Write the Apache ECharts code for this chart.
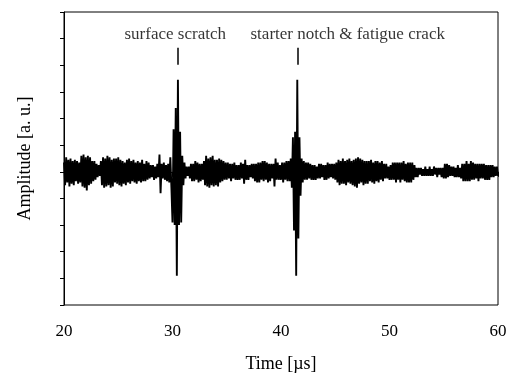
<!DOCTYPE html>
<html>
<head>
<meta charset="utf-8">
<script src="https://cdn.jsdelivr.net/npm/echarts@6/dist/echarts.min.js"></script>
<style>
  html, body { margin: 0; padding: 0; background: #fff; }
  #main { width: 510px; height: 373px; }
</style>
</head>
<body>
<div id="main"></div>
<script>
  // sampling of the trace (µs)
  var t0 = 20;
  var dt = 0.1;

  // amplitude samples [a. u.], one row per microsecond (20 ... 59.9, then 60.0)
  var amp = [
    0.35, -0.5, 0.55, -0.4, 0.45, -0.55, 0.5, -0.45, 0.4, -0.5,      // 20
    0.45, -0.35, 0.4, -0.45, 0.35, -0.4, 0.6, -0.55, 0.65, -0.6,     // 21
    0.55, -0.7, 0.6, -0.5, 0.55, -0.45, 0.4, -0.35, 0.4, -0.3,       // 22
    0.3, -0.2, 0.25, -0.15, 0.4, -0.5, 0.55, -0.6, 0.5, -0.55,       // 23
    0.6, -0.5, 0.55, -0.6, 0.45, -0.55, 0.5, -0.4, 0.5, -0.45,       // 24
    0.55, -0.5, 0.45, -0.55, 0.4, -0.45, 0.35, -0.5, 0.45, -0.4,     // 25
    0.5, -0.45, 0.4, -0.35, 0.45, -0.4, 0.35, -0.45, 0.4, -0.35,     // 26
    0.35, -0.4, 0.45, -0.35, 0.3, -0.35, 0.4, -0.3, 0.35, -0.25,     // 27
    0.25, -0.2, 0.25, -0.3, 0.2, -0.25, 0.3, -0.2, 0.65, -0.8,       // 28
    0.3, -0.25, 0.35, -0.3, 0.25, -0.35, 0.3, -0.4, 0.55, -0.6,      // 29
    -1.9, 1.6, -2.0, 2.4, -3.9, 3.46, -2.0, 1.5, -1.9, 0.6,          // 30 surface scratch
    -0.5, 0.35, -0.25, 0.2, -0.15, 0.2, -0.25, 0.3, -0.35, 0.3,      // 31
    -0.35, 0.4, -0.3, 0.35, -0.4, 0.3, -0.35, 0.3, -0.3, 0.4,        // 32
    -0.5, 0.6, -0.55, 0.5, -0.6, 0.55, -0.5, 0.6, -0.55, 0.45,       // 33
    -0.5, 0.45, -0.55, 0.5, -0.4, 0.45, -0.35, 0.4, -0.3, 0.35,      // 34
    -0.3, 0.35, -0.25, 0.3, -0.35, 0.3, -0.25, 0.35, -0.3, 0.25,     // 35
    -0.3, 0.25, -0.3, 0.35, -0.25, 0.3, -0.45, 0.45, -0.3, 0.25,     // 36
    -0.3, 0.25, -0.2, 0.3, -0.25, 0.3, -0.35, 0.3, -0.4, 0.35,       // 37
    -0.4, 0.35, -0.3, 0.4, -0.35, 0.4, -0.3, 0.35, -0.4, 0.3,        // 38
    -0.35, 0.3, -0.25, 0.3, -0.55, 0.5, -0.3, 0.35, -0.3, 0.25,      // 39
    -0.3, 0.35, -0.4, 0.35, -0.3, 0.4, -0.35, 0.4, -0.35, 0.5,       // 40
    -0.6, 1.3, -2.2, 1.5, -3.9, 3.46, -2.5, 1.3, -0.9, 0.5,          // 41 notch & crack
    -0.4, 0.4, -0.3, 0.35, -0.3, 0.35, -0.25, 0.3, -0.3, 0.25,       // 42
    -0.3, 0.25, -0.3, 0.2, -0.25, 0.3, -0.25, 0.3, -0.2, 0.25,       // 43
    -0.3, 0.25, -0.3, 0.35, -0.25, 0.3, -0.2, 0.3, -0.25, 0.3,       // 44
    -0.3, 0.35, -0.4, 0.45, -0.5, 0.4, -0.45, 0.5, -0.45, 0.4,       // 45
    -0.5, 0.45, -0.4, 0.5, -0.45, 0.4, -0.5, 0.45, -0.55, 0.5,       // 46
    -0.6, 0.55, -0.45, 0.5, -0.4, 0.45, -0.5, 0.4, -0.45, 0.4,       // 47
    -0.45, 0.4, -0.35, 0.45, -0.4, 0.35, -0.45, 0.4, -0.35, 0.4,     // 48
    -0.4, 0.35, -0.3, 0.4, -0.35, 0.3, -0.25, 0.3, -0.25, 0.2,       // 49
    -0.3, 0.25, -0.3, 0.35, -0.3, 0.35, -0.4, 0.35, -0.3, 0.35,      // 50
    -0.4, 0.35, -0.3, 0.4, -0.35, 0.3, -0.4, 0.35, -0.4, 0.35,       // 51
    -0.4, 0.35, -0.3, 0.25, -0.2, 0.15, -0.2, 0.15, -0.1, 0.15,      // 52
    -0.15, 0.1, -0.15, 0.2, -0.15, 0.1, -0.15, 0.2, -0.15, 0.1,      // 53
    -0.15, 0.2, -0.1, 0.15, -0.2, 0.15, -0.1, 0.15, -0.2, 0.15,      // 54
    -0.25, 0.3, -0.25, 0.3, -0.2, 0.25, -0.15, 0.2, -0.15, 0.2,      // 55
    -0.2, 0.15, -0.2, 0.25, -0.2, 0.15, -0.25, 0.3, -0.35, 0.3,      // 56
    -0.35, 0.4, -0.35, 0.3, -0.35, 0.4, -0.3, 0.35, -0.3, 0.3,       // 57
    -0.25, 0.3, -0.35, 0.3, -0.25, 0.3, -0.25, 0.3, -0.3, 0.25,      // 58
    -0.3, 0.25, -0.3, 0.25, -0.2, 0.25, -0.2, 0.2, -0.15, 0.2,       // 59
    -0.15                                                            // 60
  ];

  // annotations above the two echoes
  var annoX = [30.45, 41.5];
  var annoText = ['surface scratch', 'starter notch & fatigue crack'];
  var annoLabelX = [30.25, 46.15];
  var annoTop = 4.66;
  var annoBottom = 4.02;
  var annoTextY = 5.15;

  var xTicks = [20, 30, 40, 50, 60];

  var chartDom = document.getElementById('main');
  var myChart = echarts.init(chartDom, null, { renderer: 'canvas' });
  var serif = '"Liberation Serif", "DejaVu Serif", serif';

  var trace = amp.map(function (v, i) {
    return [+(t0 + i * dt).toFixed(2), v];
  });

  var markSegs = annoX.map(function (x) {
    return [{ coord: [x, annoTop] }, { coord: [x, annoBottom] }];
  });

  var labelPts = annoText.map(function (s, i) {
    return { value: [annoLabelX[i], annoTextY], name: s };
  });

  var option = {
    animation: false,
    grid: {
      left: 64,
      right: 12,
      top: 12,
      bottom: 68,
      outerBoundsMode: 'none',
      containLabel: false,
      show: true,
      borderColor: '#000',
      borderWidth: 1
    },
    xAxis: {
      type: 'value',
      min: xTicks[0],
      max: xTicks[xTicks.length - 1],
      interval: 10,
      name: 'Time [µs]',
      nameLocation: 'middle',
      nameGap: 50,
      nameTextStyle: { fontFamily: serif, fontSize: 18, color: '#000' },
      axisLine: { lineStyle: { color: '#000', width: 1 } },
      axisTick: { inside: false, length: 5, lineStyle: { color: '#000' } },
      axisLabel: { margin: 18, fontFamily: serif, fontSize: 17, color: '#000' },
      splitLine: { show: false }
    },
    yAxis: {
      type: 'value',
      min: -5,
      max: 6,
      interval: 1,
      name: 'Amplitude [a. u.]',
      nameLocation: 'middle',
      nameGap: 30,
      nameTextStyle: { fontFamily: serif, fontSize: 18, color: '#000' },
      axisLine: { show: true, lineStyle: { color: '#000', width: 1 } },
      axisTick: { show: true, inside: false, length: 4, lineStyle: { color: '#000' } },
      axisLabel: { show: false },
      splitLine: { show: false }
    },
    series: [
      {
        name: 'signal',
        type: 'line',
        data: trace,
        showSymbol: false,
        sampling: null,
        lineStyle: { color: '#000', width: 1.9 },
        z: 3,
        markLine: {
          symbol: ['none', 'none'],
          silent: true,
          label: { show: false },
          lineStyle: { color: '#000', width: 1.5, type: 'solid' },
          data: markSegs
        }
      },
      {
        name: 'labels',
        type: 'scatter',
        data: labelPts,
        symbolSize: 0,
        silent: true,
        label: {
          show: true,
          position: 'inside',
          formatter: function (p) { return p.name; },
          fontFamily: serif,
          fontSize: 17,
          color: '#000'
        }
      }
    ]
  };

  option && myChart.setOption(option, true);
</script>
</body>
</html>
